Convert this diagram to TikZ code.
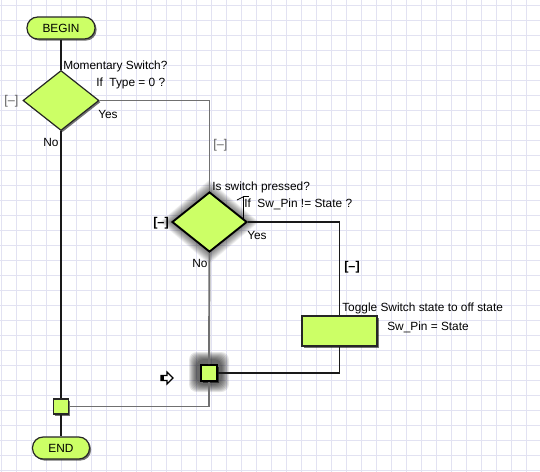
\documentclass[tikz,border=0pt]{standalone}
\usepackage{fontspec}
\setmainfont{Liberation Sans}
\usetikzlibrary{shapes.geometric,shadows}
\definecolor{lime}{RGB}{204,255,102}
\definecolor{gridc}{RGB}{226,226,242}
\definecolor{grayline}{RGB}{112,112,112}
\definecolor{blackline}{RGB}{25,25,25}
\begin{document}
\begin{tikzpicture}[x=0.75pt,y=-0.75pt,
  txt/.style={font=\fontsize{8.9}{10}\selectfont, inner sep=0pt, anchor=west, text=black},
  shad/.style={drop shadow={shadow xshift=1.2pt, shadow yshift=-1.2pt, fill=black, opacity=0.55}},
  term/.style={shad, draw=black!85, line width=0.9pt, fill=lime, rounded corners=8pt, minimum height=16.5pt, inner sep=0pt, font=\fontsize{8.9}{10}\selectfont},
  dec/.style={diamond, draw=black!85, line width=0.9pt, fill=lime, inner sep=0pt},
  proc/.style={shad, rectangle, draw=black!85, line width=0.9pt, fill=lime, inner sep=0pt},
  junc/.style={shad, rectangle, draw=black!85, line width=0.9pt, fill=lime, inner sep=0pt},
  blk/.style={draw=blackline, line width=1.45pt},
  gry/.style={draw=grayline, line width=1.45pt},
  gbr/.style={txt, font=\fontsize{9.5}{10}\selectfont, text=black!62},
  bbr/.style={txt, font=\fontsize{9.5}{10}\selectfont\bfseries},
]
\useasboundingbox (0,0) rectangle (540,472);
\fill[white] (0,0) rectangle (540,472);
\begin{scope}
\clip (0,0) rectangle (540,472);
\foreach \gx in {1,16,...,540} \draw[gridc, line width=0.6pt] (\gx,0) -- (\gx,472);
\foreach \gy in {5.5,20.5,...,472} \draw[gridc, line width=0.6pt] (0,\gy) -- (540,\gy);
\end{scope}

% glows (selection highlight)
\foreach \i in {1,...,12}
  \fill[black, opacity=0.05] (209,{192-\i}) -- ({172-\i},222) -- (209,{252+\i}) -- ({247+\i},222) -- cycle;
\foreach \i in {0,...,7}
  \fill[black, opacity=0.1, rounded corners=6pt] ({209-13-\i},{372-13-\i}) rectangle ({209+13+\i},{372+13+\i});

% nodes
\node[term, minimum width=51pt] (begin) at (61,28) {BEGIN};
\node[dec, minimum width=57pt, minimum height=45pt, shad] (d1) at (61,100.5) {};
\node[dec, minimum width=56.25pt, minimum height=45pt, draw=black, line width=1.4pt] (d2) at (209.5,222) {};
\node[proc, minimum width=56.25pt, minimum height=22.5pt] (rect) at (339.5,331) {};
\node[junc, minimum size=11.25pt] (sq1) at (61,406.5) {};
\node[junc, minimum size=12pt, draw=black, line width=1.3pt] (sq2) at (209,373) {};
\node[term, minimum width=42.75pt] (end) at (61,448) {END};

% connectors
\draw[blk] (begin.south) -- (d1.north);
\draw[gry] (d1.east) -| (d2.north);
\draw[blk] (d1.south) -- (sq1.north);
\draw[blk] (sq1.south) -- (end.north);
\draw[blk] (d2.east) -| (rect.north);
\draw[gry] (d2.south) -- (sq2.north);
\draw[blk] (rect.south) |- (sq2.east);
\draw[gry] (sq2.south) |- (sq1.east);

% leader bracket
\draw[black, line width=0.6pt] (237,200) -- (243,197);
\draw[black, line width=0.6pt] (243,219) -- (243,196.5) -- (249,196.5);

% arrow icon
\draw[black, line width=0.9pt, fill=white, line join=miter]
  (161,375.5) -- (167,375.5) -- (167,372) -- (173,378) -- (167,384) -- (167,380.5) -- (161,380.5) -- cycle;
\fill[black] (161,375.5) rectangle (163.5,380.5);

% labels
\node[txt] (t1) at (63,66) {Momentary Switch?};
\node[txt] (t2) at (96,83) {If \ Type = 0 ?};
\node[gbr] (b1) at (4,101) {[–]};
\node[txt] (y1) at (98,114) {Yes};
\node[txt] (n1) at (43,142) {No};
\node[gbr] (b2) at (213,145) {[–]};
\node[txt] (t3) at (212,187) {Is switch pressed?};
\node[txt] (t4) at (244,204) {If \ Sw\_Pin != State ?};
\node[bbr] (b3) at (153,223) {[–]};
\node[txt] (y2) at (247,235) {Yes};
\node[txt] (n2) at (192,263) {No};
\node[bbr] (b4) at (344,267) {[–]};
\node[txt] (t5) at (342,308) {Toggle Switch state to off state};
\node[txt] (t6) at (387,327) {Sw\_Pin = State};
\end{tikzpicture}
\end{document}
